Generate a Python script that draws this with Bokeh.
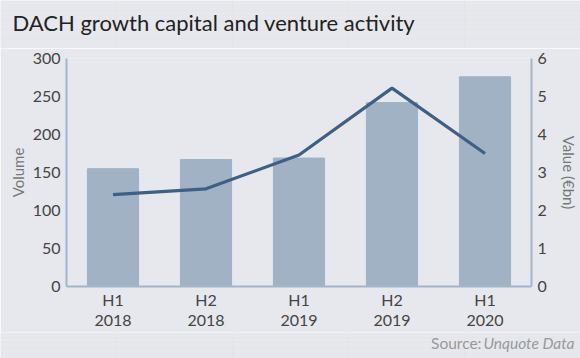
from bokeh.plotting import figure
from bokeh.models import (ColumnDataSource, Range1d, FactorRange, LinearAxis,
                          FixedTicker, Label)
from bokeh.layouts import column
from bokeh.embed import file_html
from bokeh.resources import INLINE

periods = ["H1\n2018", "H2\n2018", "H1\n2019", "H2\n2019", "H1\n2020"]
volume = [155, 167, 169, 242, 276]
value_bn = [2.42, 2.57, 3.46, 5.22, 3.50]
left_ticks = [0, 50, 100, 150, 200, 250, 300]
right_ticks = [0, 1, 2, 3, 4, 5, 6]

BG = "#e7e8ed"
BAR = "#a0b2c4"
LINE = "#3e5f86"
AXIS = "#a3b6c9"
FONT = "Lato"
W = 580
TOP_H, MAIN_H, BOT_H = 48, 284, 26


def no_align(f):
    try:
        f.frame_align = False
    except Exception:
        pass


def text_strip(h):
    f = figure(width=W, height=h, output_backend="svg", toolbar_location=None,
               x_range=Range1d(0, 1), y_range=Range1d(0, 1),
               x_axis_location=None, y_axis_location=None, min_border=0)
    f.background_fill_color = BG
    f.border_fill_color = BG
    f.outline_line_color = None
    no_align(f)
    return f


# title strip
top = text_strip(TOP_H)
top.add_layout(Label(x=12, y=26, x_units="screen", y_units="screen",
                     text="DACH growth capital and venture activity",
                     text_align="left", text_baseline="middle",
                     text_font=FONT, text_font_size="22px", text_color="#222222"))

# main chart
src = ColumnDataSource(dict(period=periods, volume=volume, value=value_bn))
p = figure(width=W, height=MAIN_H, output_backend="svg", toolbar_location=None,
           x_range=FactorRange(factors=periods, range_padding=0),
           y_range=Range1d(0, 300),
           min_border_left=66, min_border_right=49, min_border_top=10,
           min_border_bottom=45)
p.background_fill_color = BG
p.border_fill_color = BG
p.outline_line_color = None
p.grid.visible = False
no_align(p)

p.extra_y_ranges = {"val": Range1d(0, 6)}

p.vbar(x="period", top="volume", width=0.55, source=src, color=BAR)
p.line(x="period", y="value", source=src, y_range_name="val",
       line_color=LINE, line_width=3.2)


def style(ax):
    ax.axis_line_color = AXIS
    ax.axis_line_width = 2
    ax.major_tick_line_color = None
    ax.minor_tick_line_color = None
    ax.major_tick_in = 0
    ax.major_tick_out = 0
    ax.major_label_text_font = FONT
    ax.major_label_text_font_size = "16px"
    ax.major_label_text_color = "#444444"
    ax.axis_label_text_font = FONT
    ax.axis_label_text_font_size = "15px"
    ax.axis_label_text_font_style = "normal"
    ax.axis_label_text_color = "#777777"


ly = p.yaxis[0]
style(ly)
ly.ticker = FixedTicker(ticks=left_ticks)
ly.axis_label = "Volume"
ly.major_label_standoff = 6
ly.axis_label_standoff = 3

ry = LinearAxis(y_range_name="val", ticker=FixedTicker(ticks=right_ticks),
                axis_label="Value (€bn)")
style(ry)
ry.major_label_standoff = 6
ry.axis_label_standoff = 10
p.add_layout(ry, "right")

xa = p.xaxis[0]
style(xa)
xa.major_label_standoff = 3
xa.major_label_text_line_height = 1.1

# source strip
bot = text_strip(BOT_H)
bot.add_layout(Label(x=481, y=16, x_units="screen", y_units="screen",
                     text="Source:", text_align="right", text_baseline="middle",
                     text_font=FONT, text_font_size="15.5px",
                     text_color="#999999"))
bot.add_layout(Label(x=574, y=16, x_units="screen", y_units="screen",
                     text="Unquote Data", text_align="right",
                     text_baseline="middle", text_font=FONT,
                     text_font_size="15.5px", text_font_style="italic",
                     text_color="#999999"))

layout = column(top, p, bot, spacing=0)
open("out.html", "w").write(file_html(layout, INLINE))
